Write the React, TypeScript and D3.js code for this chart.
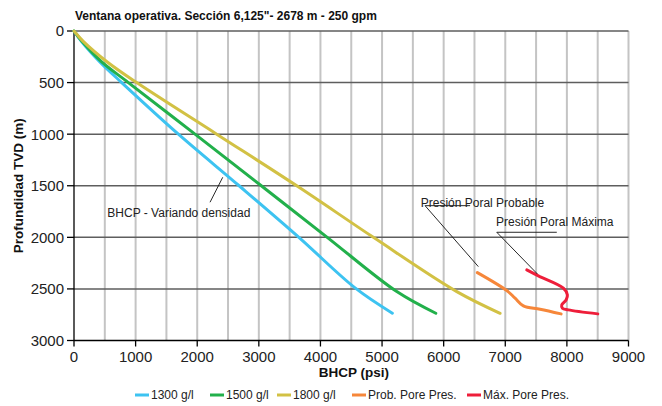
import React from "react";
import * as d3 from "d3";

const width = 662;
const height = 406;
const margin = { top: 31, right: 33.5, bottom: 65.5, left: 74 };

// BHCP curves (psi vs TVD m)
const psi1300 = [0, 120, 420, 774, 1694, 2680, 3650, 4562, 5167];
const depth1300 = [0, 100, 300, 500, 1000, 1500, 2000, 2490, 2735];
const psi1500 = [0, 130, 450, 882, 1964, 3040, 4110, 5239, 5872];
const depth1500 = [0, 100, 300, 500, 1000, 1500, 2000, 2526, 2736];
const psi1800 = [0, 150, 540, 1017, 2316, 3640, 4859, 6213, 6916];
const depth1800 = [0, 100, 300, 500, 1000, 1510, 2000, 2526, 2736];

// pore pressure curves
const psiProb = [6547, 7024, 7159, 7294, 7565, 7906];
const depthProb = [2342, 2516, 2590, 2665, 2697, 2742];
const psiMax = [7349, 7537, 7943, 8008, 7987, 7917, 7927, 8024, 8502];
const depthMax = [2316, 2374, 2493, 2558, 2607, 2655, 2687, 2703, 2742];

const seriesNames = ["1300 g/l", "1500 g/l", "1800 g/l", "Prob. Pore Pres.", "Máx. Pore Pres."];
const seriesColors = ["#3dc3f1", "#22b04b", "#d2c144", "#f6873a", "#ee1e3a"];
const xTicks = [0, 1000, 2000, 3000, 4000, 5000, 6000, 7000, 8000, 9000];
const yTicks = [0, 500, 1000, 1500, 2000, 2500, 3000];

const font = "'Liberation Sans', Arial, sans-serif";

export default function App() {
  const x = d3.scaleLinear().domain([0, 9000]).range([margin.left, width - margin.right]);
  const y = d3.scaleLinear().domain([0, 3000]).range([margin.top, height - margin.bottom]);

  const series = [
    [psi1300, depth1300],
    [psi1500, depth1500],
    [psi1800, depth1800],
    [psiProb, depthProb],
    [psiMax, depthMax],
  ];

  const line = d3
    .line<[number, number]>()
    .x((d) => x(d[0]))
    .y((d) => y(d[1]))
    .curve(d3.curveCatmullRom.alpha(0.5));

  const vGrid = d3.range(500, 9001, 500);
  const hGrid = d3.range(0, 2501, 500);

  // legend item positions (swatch start in px)
  const legendX = [135, 210, 277, 352, 467];
  const legendY = 395;

  return (
    <svg
      width={width}
      height={height}
      style={{ position: "absolute", left: 0, top: 0, background: "#fff" }}
      fontFamily={font}
    >
      <text x={75} y={20} fontSize={12} fontWeight="bold" fill="#111">
        Ventana operativa. Sección 6,125"- 2678 m - 250 gpm
      </text>

      {vGrid.map((v) => (
        <line key={"v" + v} x1={x(v)} x2={x(v)} y1={y(0)} y2={y(3000)} stroke="#c4c4c4" strokeWidth={2} />
      ))}
      {hGrid.map((v) => (
        <line key={"h" + v} x1={x(0)} x2={x(9000)} y1={y(v)} y2={y(v)} stroke="#5e5e5e" strokeWidth={1.5} />
      ))}

      {/* axes */}
      <line x1={x(0)} x2={x(0)} y1={y(0)} y2={y(3000)} stroke="#000" strokeWidth={1.3} />
      <line x1={x(0)} x2={x(9000)} y1={y(3000)} y2={y(3000)} stroke="#000" strokeWidth={1.3} />
      {xTicks.map((t) => (
        <g key={"xt" + t}>
          <line x1={x(t)} x2={x(t)} y1={y(3000)} y2={y(3000) + 6} stroke="#000" strokeWidth={1.3} />
          <text x={x(t)} y={y(3000) + 21} fontSize={15} textAnchor="middle" fill="#222">
            {t}
          </text>
        </g>
      ))}
      {yTicks.map((t) => (
        <g key={"yt" + t}>
          <line x1={x(0) - 7} x2={x(0)} y1={y(t)} y2={y(t)} stroke="#000" strokeWidth={1.3} />
          <text x={x(0) - 10} y={y(t)} dy="0.36em" fontSize={15} textAnchor="end" fill="#222">
            {t}
          </text>
        </g>
      ))}

      <text x={354} y={377} fontSize={13.5} fontWeight="bold" textAnchor="middle" fill="#111">
        BHCP (psi)
      </text>
      <text
        transform={`translate(23, ${(y(0) + y(3000)) / 2}) rotate(-90)`}
        fontSize={13.5}
        fontWeight="bold"
        textAnchor="middle"
        fill="#111"
      >
        Profundidad TVD (m)
      </text>

      {series.map(([px, dp], i) => (
        <path
          key={"s" + i}
          d={line(px.map((p, j) => [p, dp[j]]) as [number, number][]) || ""}
          fill="none"
          stroke={seriesColors[i]}
          strokeWidth={3}
          strokeLinecap="round"
        />
      ))}

      {/* annotations */}
      <g stroke="#111" strokeWidth={0.9} fill="none">
        <line x1={x(2208)} y1={y(1660)} x2={x(2414)} y2={y(1418)} />
        <polyline points={`${x(6429)},${y(1693)} ${x(5698)},${y(1693)} ${x(6563)},${y(2284)}`} />
        <polyline points={`${x(7836)},${y(1951)} ${x(6862)},${y(1951)} ${x(7521)},${y(2355)}`} />
      </g>
      <g fontSize={12} fill="#222">
        <text x={x(541)} y={y(1761)} dy="0.36em">BHCP - Variando densidad</text>
        <text x={x(5628)} y={y(1668)} dy="0.36em">Presión Poral Probable</text>
        <text x={x(6851)} y={y(1848)} dy="0.36em">Presión Poral Máxima</text>
      </g>

      {/* legend */}
      {seriesNames.map((n, i) => (
        <g key={"lg" + i}>
          <line
            x1={legendX[i]}
            x2={legendX[i] + 14}
            y1={legendY}
            y2={legendY}
            stroke={seriesColors[i]}
            strokeWidth={3}
          />
          <text x={legendX[i] + 16} y={legendY} dy="0.36em" fontSize={12} fill="#222">
            {n}
          </text>
        </g>
      ))}
    </svg>
  );
}
